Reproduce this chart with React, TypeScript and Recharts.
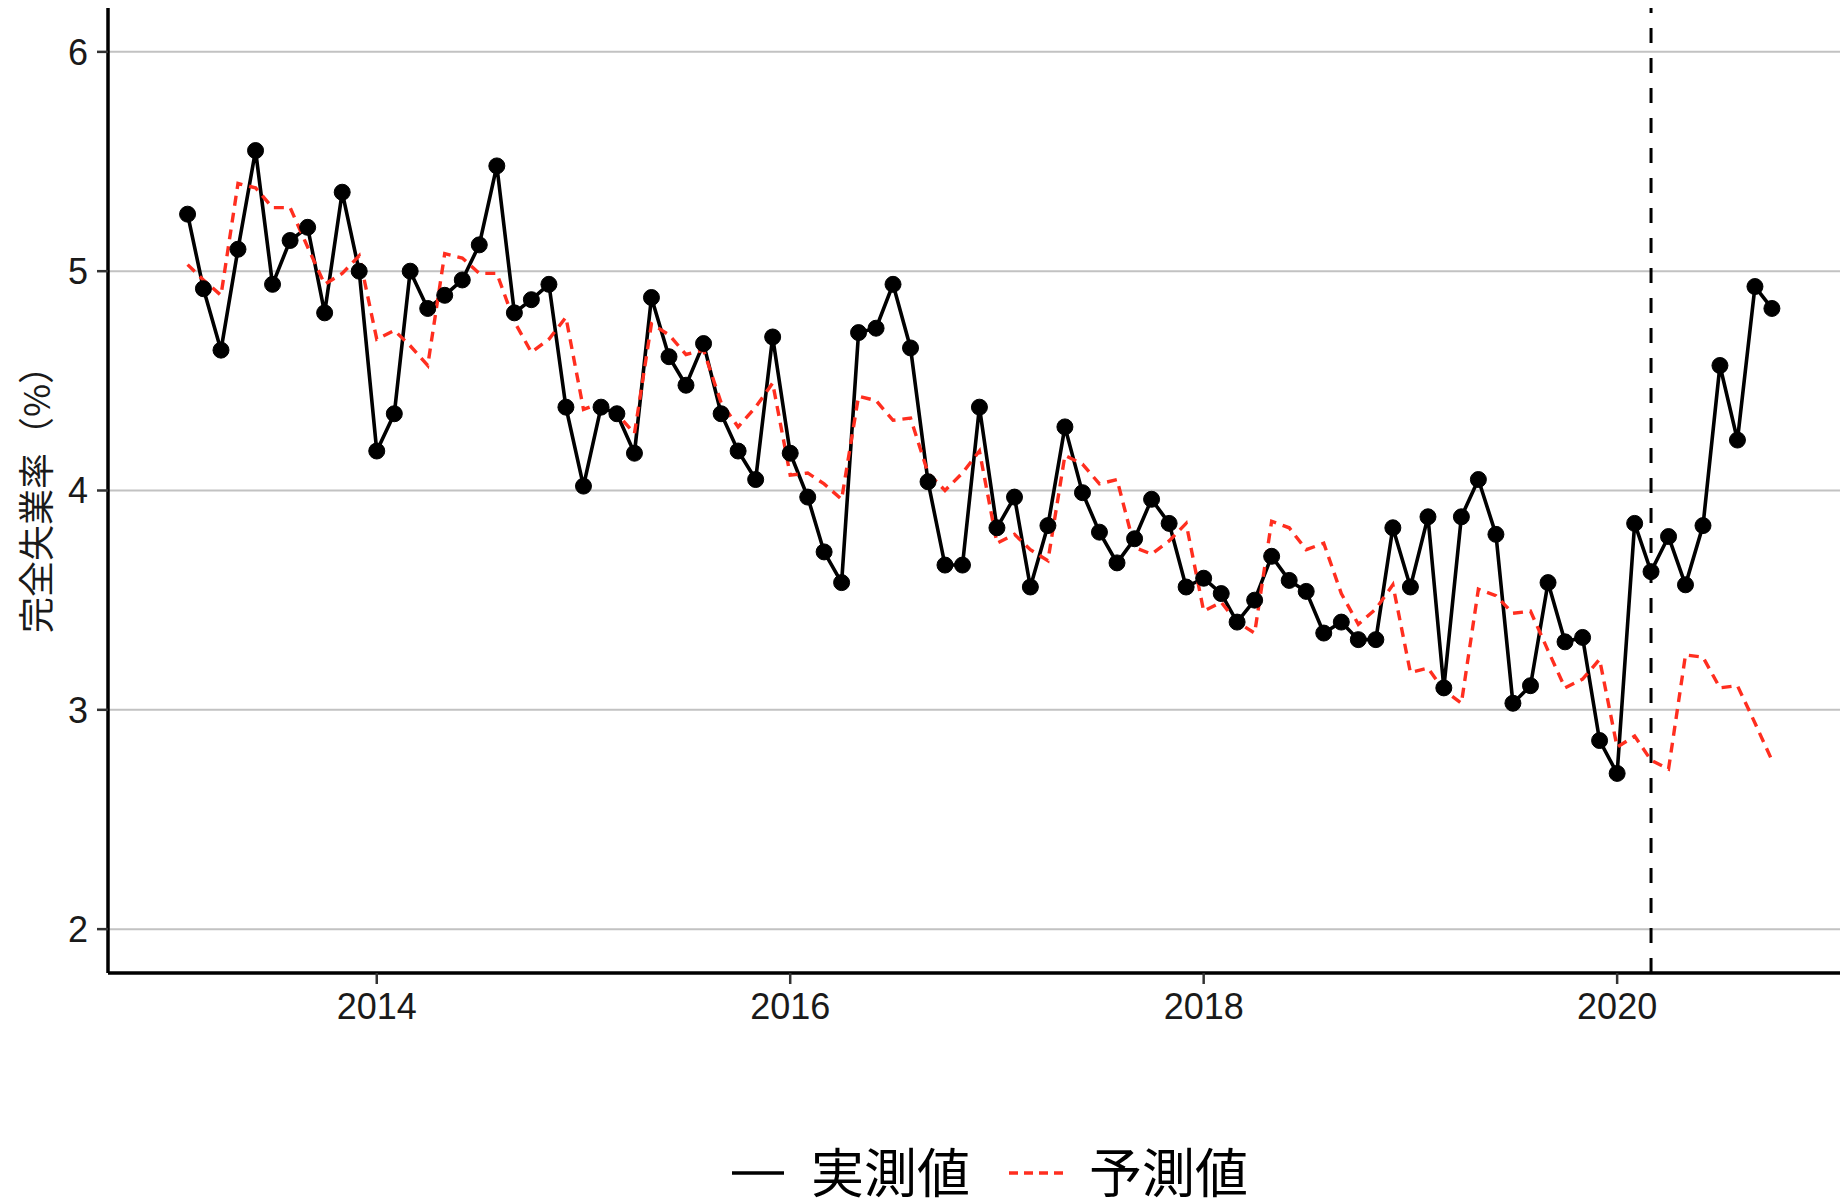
import React from 'react';
import { LineChart, Line, XAxis, YAxis, ReferenceLine, Legend } from 'recharts';

// monthly series, first month = 2013-02
const START_YEAR = 2013;
const START_MONTH = 2;

// 実測値 (%)
const ACTUAL = [
  5.26, 4.92, 4.64, 5.10, 5.55, 4.94, 5.14, 5.20, 4.81, 5.36, 5.00,
  4.18, 4.35, 5.00, 4.83, 4.89, 4.96, 5.12, 5.48, 4.81, 4.87, 4.94, 4.38,
  4.02, 4.38, 4.35, 4.17, 4.88, 4.61, 4.48, 4.67, 4.35, 4.18, 4.05, 4.70,
  4.17, 3.97, 3.72, 3.58, 4.72, 4.74, 4.94, 4.65, 4.04, 3.66, 3.66, 4.38,
  3.83, 3.97, 3.56, 3.84, 4.29, 3.99, 3.81, 3.67, 3.78, 3.96, 3.85, 3.56,
  3.60, 3.53, 3.40, 3.50, 3.70, 3.59, 3.54, 3.35, 3.40, 3.32, 3.32, 3.83,
  3.56, 3.88, 3.10, 3.88, 4.05, 3.80, 3.03, 3.11, 3.58, 3.31, 3.33, 2.86,
  2.71, 3.85, 3.63, 3.79, 3.57, 3.84, 4.57, 4.23, 4.93, 4.83,
];

// 予測値 (%)
const PREDICTED = [
  5.03, 4.96, 4.89, 5.40, 5.38, 5.29, 5.29, 5.11, 4.94, 4.99, 5.07,
  4.69, 4.73, 4.66, 4.57, 5.08, 5.06, 4.99, 4.99, 4.77, 4.63, 4.69, 4.79,
  4.37, 4.40, 4.35, 4.26, 4.76, 4.71, 4.62, 4.64, 4.40, 4.29, 4.38, 4.49,
  4.07, 4.08, 4.03, 3.96, 4.43, 4.41, 4.32, 4.33, 4.08, 4.00, 4.08, 4.18,
  3.76, 3.80, 3.73, 3.68, 4.16, 4.12, 4.03, 4.05, 3.74, 3.71, 3.77, 3.85,
  3.45, 3.49, 3.40, 3.35, 3.86, 3.83, 3.73, 3.76, 3.53, 3.39, 3.46, 3.57,
  3.17, 3.19, 3.09, 3.03, 3.55, 3.52, 3.44, 3.45, 3.27, 3.10, 3.14, 3.23,
  2.83, 2.88, 2.77, 2.73, 3.25, 3.24, 3.10, 3.11, 2.94, 2.77,
];

const X_TICKS = [2014, 2016, 2018, 2020];
const Y_TICKS = [2, 3, 4, 5, 6];
const BREAK_MONTH = [2020, 3]; // dashed vertical line
const SERIES_NAMES = ['実測値', '予測値'];

const RED = '#ff2e1f';
const TICK_FONT = '"Liberation Sans", Arial, sans-serif';
const JP_FONT = '"Noto Sans CJK JP", "Noto Sans CJK SC", sans-serif';

// date -> decimal year
const decimalYear = (y: number, m: number) => {
  const s = Date.UTC(y, 0, 1);
  const e = Date.UTC(y + 1, 0, 1);
  return y + (Date.UTC(y, m - 1, 1) - s) / (e - s);
};

const rows = ACTUAL.map((v, i) => {
  const idx = START_MONTH - 1 + i;
  const y = START_YEAR + Math.floor(idx / 12);
  const m = (idx % 12) + 1;
  return {
    month: `${y}-${String(m).padStart(2, '0')}`,
    t: decimalYear(y, m),
    actual: v,
    predicted: PREDICTED[i],
  };
});

const YLabel = (props: any) => {
  const vb = props.viewBox || { x: 0, y: 0, width: 0, height: 0 };
  const cx = vb.x + 34;
  const cy = vb.y + vb.height / 2;
  return (
    <text
      x={cx}
      y={cy}
      transform={`rotate(-90, ${cx}, ${cy})`}
      textAnchor="middle"
      dominantBaseline="central"
      fontFamily={JP_FONT}
      fontSize={36}
      fill="#1a1a1a"
    >
      完全失業率（%）
    </text>
  );
};

const LegendBox = () => (
  <div style={{ position: 'relative', width: 540, height: 60, fontFamily: JP_FONT, fontSize: 53, color: '#000' }}>
    <svg width={52} height={60} style={{ position: 'absolute', left: 0, top: 0 }}>
      <line x1={0} x2={52} y1={30} y2={30} stroke="#000" strokeWidth={3.6} />
    </svg>
    <span style={{ position: 'absolute', left: 79, top: -3, lineHeight: '60px', whiteSpace: 'nowrap' }}>{SERIES_NAMES[0]}</span>
    <svg width={54} height={60} style={{ position: 'absolute', left: 277, top: 0 }}>
      <line x1={0} x2={54} y1={30} y2={30} stroke={RED} strokeWidth={3.4} strokeDasharray="9 6" />
    </svg>
    <span style={{ position: 'absolute', left: 357, top: -3, lineHeight: '60px', whiteSpace: 'nowrap' }}>{SERIES_NAMES[1]}</span>
  </div>
);

export default function App() {
  return (
    <div style={{ position: 'absolute', left: 0, top: 0, width: 1840, height: 1203, background: '#fff' }}>
      <LineChart
        width={1840}
        height={1203}
        data={rows}
        margin={{ top: 8, right: 0, bottom: 0, left: 0 }}
        accessibilityLayer={false}
        style={{ outline: 'none' }}
      >
        {/* horizontal grid at the y ticks */}
        {Y_TICKS.map((v) => (
          <ReferenceLine key={`g${v}`} y={v} stroke="#c2c2c2" strokeWidth={2} />
        ))}
        <XAxis
          dataKey="t"
          type="number"
          domain={[2012.7, 2021.078]}
          ticks={X_TICKS}
          allowDataOverflow
          height={170}
          axisLine={{ stroke: '#000', strokeWidth: 3.5 }}
          tickLine={{ stroke: '#333', strokeWidth: 2.5 }}
          tickSize={11}
          tickMargin={9}
          tick={{ fill: '#1a1a1a', fontSize: 36, fontFamily: TICK_FONT }}
        />
        <YAxis
          type="number"
          domain={[1.8, 6.2]}
          ticks={Y_TICKS}
          allowDataOverflow
          width={108}
          axisLine={{ stroke: '#000', strokeWidth: 3.5 }}
          tickLine={{ stroke: '#333', strokeWidth: 2.5 }}
          tickSize={11}
          tickMargin={9}
          tick={{ fill: '#1a1a1a', fontSize: 36, fontFamily: TICK_FONT }}
          label={<YLabel />}
        />
        <ReferenceLine
          x={decimalYear(BREAK_MONTH[0], BREAK_MONTH[1])}
          stroke="#000"
          strokeWidth={3}
          strokeDasharray="15 15"
        />
        <Line
          type="linear"
          dataKey="actual"
          name={SERIES_NAMES[0]}
          stroke="#000"
          strokeWidth={3.6}
          dot={{ r: 8, fill: '#000', stroke: '#000', strokeWidth: 1 }}
          activeDot={false}
          isAnimationActive={false}
        />
        <Line
          type="linear"
          dataKey="predicted"
          name={SERIES_NAMES[1]}
          stroke={RED}
          strokeWidth={3.4}
          strokeDasharray="10 7"
          dot={false}
          activeDot={false}
          isAnimationActive={false}
        />
        <Legend
          verticalAlign="bottom"
          content={<LegendBox />}
          wrapperStyle={{ left: 732, width: 540, height: 60, bottom: 0 }}
        />
      </LineChart>
    </div>
  );
}
